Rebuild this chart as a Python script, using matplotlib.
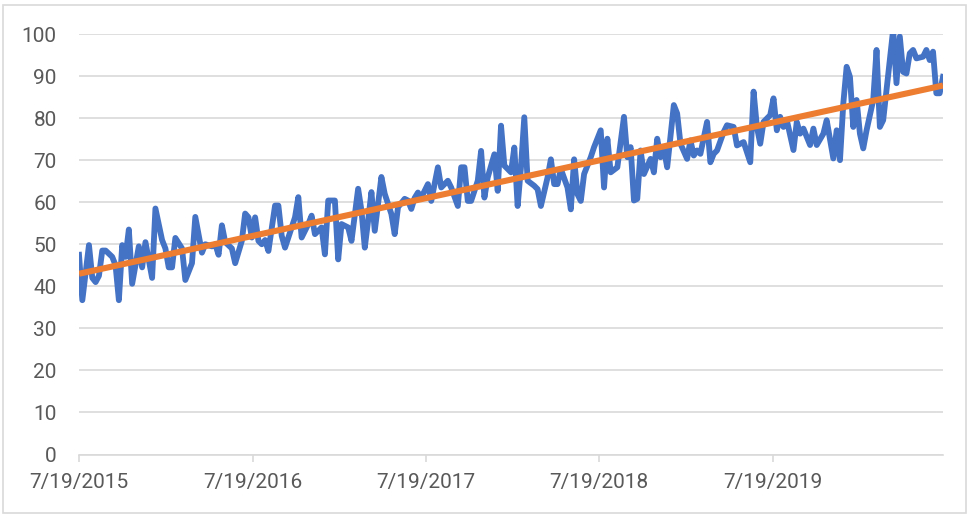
import datetime as dt

import matplotlib
matplotlib.use("Agg")
import matplotlib.dates as mdates
import matplotlib.pyplot as plt
import numpy as np
from matplotlib.patches import Rectangle

START = dt.date(2015, 7, 19)

# weekly readings: week offset from START, value
weeks = [
    0, 1, 3, 4, 5, 6, 7, 8, 10, 11, 12, 13, 14, 15, 16, 18, 19, 20, 22, 23,
    25, 26, 27, 28, 29, 31, 32, 34, 35, 37, 38, 40, 41, 42, 43, 44, 46, 47, 49, 50,
    51, 52, 53, 54, 55, 56, 57, 59, 60, 61, 62, 63, 65, 66, 67, 69, 70, 71, 72, 73,
    74, 75, 77, 78, 79, 81, 82, 84, 85, 86, 87, 88, 89, 91, 92, 93, 94, 95, 96, 98,
    99, 100, 101, 102, 103, 104, 105, 106, 108, 109, 111, 112, 114, 115, 116, 117, 118, 120, 121, 122,
    123, 125, 126, 127, 128, 130, 131, 132, 133, 134, 135, 137, 138, 139, 141, 142, 143, 144, 145, 147,
    148, 149, 150, 151, 152, 154, 155, 157, 158, 159, 160, 162, 164, 165, 166, 167, 168, 169, 170, 172,
    173, 174, 175, 176, 177, 179, 180, 181, 183, 184, 185, 186, 187, 189, 190, 191, 192, 194, 195, 197,
    198, 200, 201, 202, 203, 204, 205, 206, 208, 209, 210, 211, 212, 213, 215, 216, 217, 218, 220, 221,
    222, 224, 225, 227, 228, 229, 230, 231, 232, 233, 234, 235, 236, 237, 239, 240, 241, 242, 244, 245,
    246, 247, 248, 249, 250, 251, 252, 254, 255, 256, 257, 258, 259, 260,
]
values = [
    47.5, 36.7, 49.8, 42.0, 41.0, 42.5, 48.5, 48.5, 47.0, 45.0, 36.7, 49.8, 47.0, 53.5, 40.6, 49.5, 44.5, 50.5, 42.0, 58.5,
    51.0, 49.0, 44.5, 44.5, 51.5, 49.0, 41.5, 45.5, 56.5, 48.0, 50.0, 49.5, 50.0, 47.5, 54.5, 50.5, 49.0, 45.5, 50.8, 57.3,
    56.4, 51.6, 56.4, 50.8, 50.0, 51.0, 48.4, 59.2, 59.2, 52.0, 49.2, 51.6, 56.4, 61.2, 51.6, 54.8, 56.8, 52.4, 53.2, 54.0,
    47.6, 60.4, 60.4, 46.4, 54.8, 54.0, 50.8, 63.2, 58.0, 49.2, 55.6, 62.4, 53.2, 66.0, 62.0, 59.6, 57.2, 52.4, 58.8, 60.8,
    60.4, 58.4, 61.0, 62.3, 61.1, 62.7, 64.3, 60.3, 68.3, 63.5, 65.1, 63.5, 59.1, 68.3, 68.3, 60.3, 60.3, 65.1, 72.2, 61.1,
    65.9, 71.4, 62.7, 78.2, 68.7, 67.1, 73.0, 59.1, 68.3, 80.2, 65.1, 63.9, 63.1, 59.1, 65.9, 70.2, 64.3, 64.3, 67.9, 63.5,
    58.3, 70.2, 61.9, 60.3, 66.7, 70.7, 73.1, 77.1, 63.5, 75.1, 67.1, 68.3, 80.3, 70.7, 73.1, 60.4, 60.8, 72.3, 66.7, 70.3,
    67.1, 75.1, 70.7, 72.7, 68.3, 83.1, 81.1, 73.9, 70.3, 74.7, 71.1, 72.3, 71.5, 79.1, 69.5, 71.5, 72.3, 76.7, 78.3, 77.9,
    73.5, 74.3, 71.9, 69.5, 86.3, 77.9, 73.9, 79.1, 80.7, 84.7, 77.1, 80.3, 77.9, 79.5, 72.4, 79.1, 76.3, 77.5, 73.6, 77.5,
    73.6, 76.3, 79.5, 70.4, 77.1, 70.0, 83.5, 92.2, 89.8, 77.9, 84.3, 76.3, 72.8, 77.1, 84.3, 96.2, 77.9, 79.5, 93.8, 101.0,
    88.3, 99.4, 91.0, 90.6, 95.4, 96.2, 94.2, 94.6, 96.2, 93.8, 95.8, 85.9, 85.9, 89.8,
]
y_ticks = list(range(0, 101, 10))

BLUE = "#4472C4"
ORANGE = "#ED7D31"
GRID = "#D9D9D9"
TEXT = "#595959"

plt.rcParams["font.family"] = ["Roboto", "DejaVu Sans"]

dates = [START + dt.timedelta(weeks=w) for w in weeks]
x = mdates.date2num(dates)

# linear trend over the whole series
slope, icpt = np.polyfit(weeks, values, 1)
trend_w = np.array([weeks[0], weeks[-1]])
trend_x = mdates.date2num([START + dt.timedelta(weeks=int(w)) for w in trend_w])

fig = plt.figure(figsize=(9.72, 5.15), dpi=100)
ax = fig.add_axes([79 / 972, 1 - 454.5 / 515, (943 - 79) / 972, (454.5 - 34) / 515])

ax.plot(x, values, color=BLUE, lw=4.2, solid_joinstyle="round", zorder=3)
ax.plot(trend_x, icpt + slope * trend_w, color=ORANGE, lw=4.4, solid_capstyle="butt", zorder=4)

ax.set_xlim(x[0], x[-1])
ax.set_ylim(0, 100)
ax.set_yticks(y_ticks)
ax.grid(axis="y", color=GRID, lw=1.2)
ax.set_axisbelow(True)

ax.xaxis.set_major_locator(mdates.YearLocator(month=7, day=19))
ax.xaxis.set_major_formatter(
    matplotlib.ticker.FuncFormatter(lambda v, _: (lambda d: f"{d.month}/{d.day}/{d.year}")(mdates.num2date(v)))
)

for side in ("top", "right", "left"):
    ax.spines[side].set_visible(False)
ax.spines["bottom"].set_color(GRID)
ax.spines["bottom"].set_linewidth(1.2)

ax.tick_params(axis="y", length=0, pad=16, labelsize=15, labelcolor=TEXT)
ax.tick_params(axis="x", length=5, width=1.2, color=GRID, pad=8, labelsize=15, labelcolor=TEXT)

# light frame around the chart area
fig.patches.append(Rectangle((3 / 972, 1 - 513 / 515), 963 / 972, 508 / 515,
                             transform=fig.transFigure, fill=False, edgecolor=GRID, lw=1.2))

fig.savefig("out.png", dpi=100)
